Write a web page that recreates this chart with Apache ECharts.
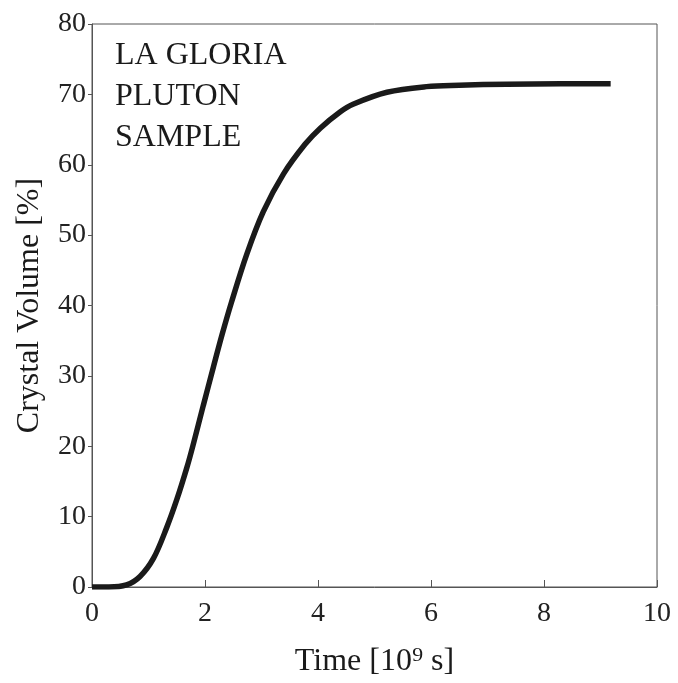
<!DOCTYPE html>
<html>
<head>
<meta charset="utf-8">
<script src="https://cdn.jsdelivr.net/npm/echarts@6/dist/echarts.min.js"></script>
<style>
html,body{margin:0;padding:0;background:#fff;}
#main{width:678px;height:683px;}
</style>
</head>
<body>
<div id="main"></div>
<script>
var timeValues = [0, 0.3, 0.61, 0.85, 1.09, 1.32, 1.50, 1.68, 1.79, 1.97, 2.15, 2.30, 2.47, 2.74, 3.03, 3.39, 3.77, 4.04, 4.39, 4.62, 5.22, 5.92, 6.5, 7.34, 8.3, 9.18];
var crystalVolume = [0, 0, 0.3, 1.5, 4.1, 8.4, 12.4, 17.0, 20.2, 25.8, 31.3, 35.8, 40.5, 47.3, 53.3, 58.7, 62.9, 65.2, 67.5, 68.6, 70.3, 71.1, 71.3, 71.45, 71.5, 71.5];
var xTicks = [0, 2, 4, 6, 8, 10];
var yTicks = [0, 10, 20, 30, 40, 50, 60, 70, 80];
var sampleLabel = ['LA GLORIA', 'PLUTON', 'SAMPLE'];

var FONT = '"Liberation Serif", "DejaVu Serif", serif';
var data = timeValues.map(function (t, i) { return [t, crystalVolume[i]]; });

var chart = echarts.init(document.getElementById('main'));
chart.setOption({
  backgroundColor: '#fff',
  animation: false,
  title: {
    text: sampleLabel.join('\n'),
    left: 110,
    top: 30,
    textStyle: { fontFamily: FONT, fontSize: 32, fontWeight: 'normal', color: '#1a1a1a', lineHeight: 41 }
  },
  grid: { left: 92, top: 24, right: 21, bottom: 94, show: true, borderColor: '#555', borderWidth: 1, containLabel: false },
  xAxis: {
    type: 'value',
    min: xTicks[0], max: xTicks[xTicks.length - 1], interval: 2,
    name: 'Time [10\u2079 s]',
    nameLocation: 'middle',
    nameGap: 59,
    nameTextStyle: { fontFamily: FONT, fontSize: 32, color: '#1a1a1a' },
    axisLine: { show: true, lineStyle: { color: '#555', width: 1 } },
    axisTick: { show: true, inside: true, length: 7, lineStyle: { color: '#555' } },
    axisLabel: { fontFamily: FONT, fontSize: 28, color: '#222', margin: 13 },
    splitLine: { show: false }
  },
  yAxis: {
    type: 'value',
    min: yTicks[0], max: yTicks[yTicks.length - 1], interval: 10,
    name: 'Crystal Volume [%]',
    nameLocation: 'middle',
    nameGap: 46,
    nameTextStyle: { fontFamily: FONT, fontSize: 32, color: '#1a1a1a' },
    axisLine: { show: true, lineStyle: { color: '#555', width: 1 } },
    axisTick: { show: true, inside: false, length: 4, lineStyle: { color: '#555' } },
    axisLabel: { fontFamily: FONT, fontSize: 28, color: '#222', margin: 6 },
    splitLine: { show: false }
  },
  series: [{
    type: 'line',
    data: data,
    smooth: 0.35,
    showSymbol: false,
    lineStyle: { color: '#1a1a1a', width: 5.5, cap: 'butt' }
  }]
});
</script>
</body>
</html>
